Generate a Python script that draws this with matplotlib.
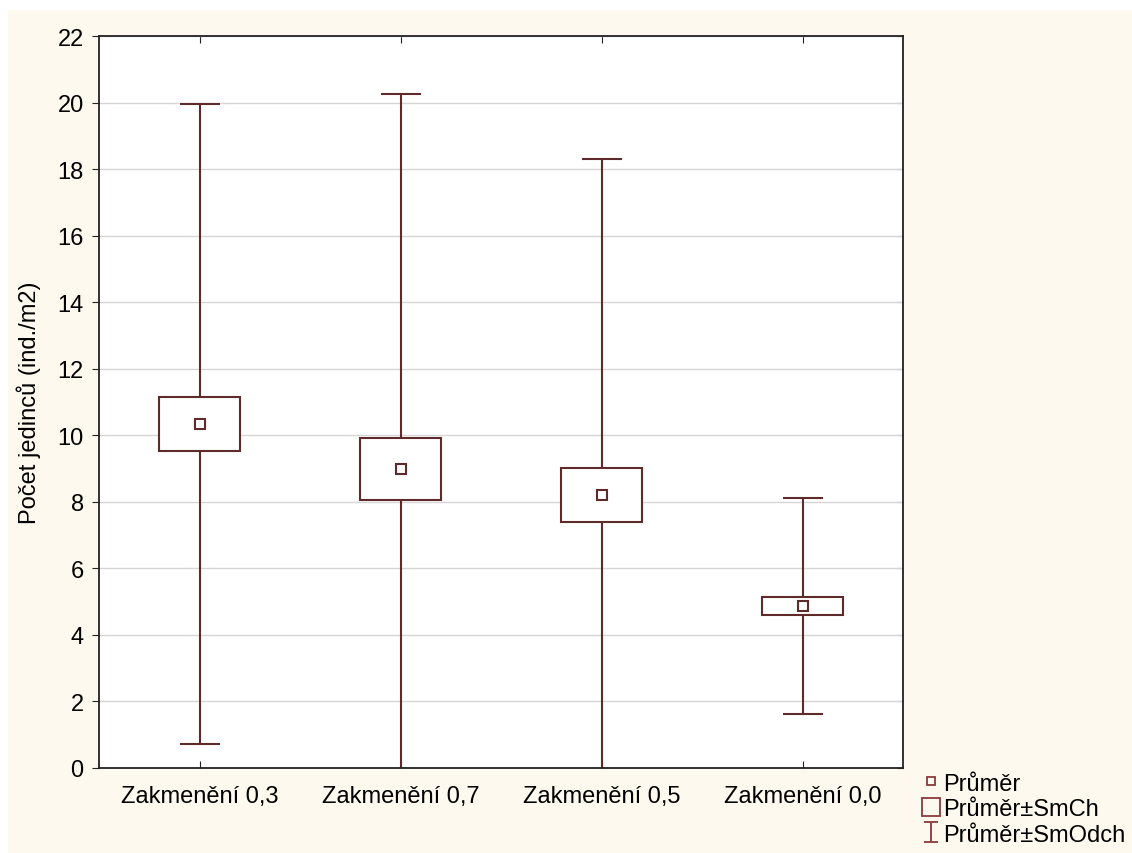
import matplotlib.pyplot as plt
from matplotlib.lines import Line2D
from matplotlib.patches import Rectangle
from matplotlib.path import Path

plt.rcParams["font.family"] = ["Liberation Sans", "DejaVu Sans"]
plt.rcParams["font.size"] = 17

# data
categories = ["Zakmenění 0,3", "Zakmenění 0,7", "Zakmenění 0,5", "Zakmenění 0,0"]
means = [10.34, 8.99, 8.21, 4.86]
se = [0.80, 0.93, 0.82, 0.27]          # SmCh
sd = [9.62, 11.26, 10.08, 3.25]        # SmOdch

col = "#5e2a2a"
cream = "#fdf9ee"

fig = plt.figure(figsize=(11.32, 8.54), dpi=100, facecolor="white")
fig.patches.append(Rectangle((8 / 1132, 0), 1, 1 - 11 / 854,
                             transform=fig.transFigure, facecolor=cream,
                             edgecolor="none", zorder=-10))
ax = fig.add_axes([99 / 1132, 85 / 854, (903 - 99) / 1132, (769 - 37) / 854])
ax.set_facecolor("white")

x = list(range(1, len(categories) + 1))

# whiskers (mean +- SD)
ax.errorbar(x, means, yerr=sd, fmt="none", ecolor=col, elinewidth=1.5,
            capsize=14.5, capthick=1.5, zorder=2, clip_on=True)
# boxes (mean +- SE)
ax.bar(x, [2 * s for s in se], bottom=[m - s for m, s in zip(means, se)],
       width=0.4, facecolor="white", edgecolor=col, linewidth=1.5, zorder=3)
# means
ax.plot(x, means, "s", ms=6.5, mfc="white", mec=col, mew=1.5, zorder=4)

ax.set_xlim(0.5, 4.5)
ax.set_ylim(0, 22)
ax.set_yticks(range(0, 23, 2))
ax.set_xticks(x)
ax.set_xticklabels(categories)
ax.set_ylabel("Počet jedinců (ind./m2)", labelpad=12)

ax.grid(axis="y", color="#d6d6d6", linewidth=1)
ax.set_axisbelow(True)
for s in ax.spines.values():
    s.set_color("#222222")
    s.set_linewidth(1.3)
ax.tick_params(axis="y", direction="out", length=5, left=True, right=False,
               color="#222222", pad=6)
ax.tick_params(axis="x", direction="in", length=5, top=True, bottom=True,
               color="#222222", pad=12)
sec = ax.secondary_yaxis("right")
sec.set_yticks(range(0, 23, 2))
sec.tick_params(direction="in", length=4, labelright=False, color="#222222")
sec.spines["right"].set_visible(False)

# legend
ibar = Path([(-0.65, -1), (0.65, -1), (0, -1), (0, 1), (-0.65, 1), (0.65, 1)],
            [Path.MOVETO, Path.LINETO, Path.MOVETO, Path.LINETO, Path.MOVETO, Path.LINETO])
handles = [
    Line2D([], [], ls="none", marker="s", ms=6, mfc="none", mec="#8a3a3a", mew=1.3),
    Line2D([], [], ls="none", marker="s", ms=12.5, mfc="none", mec="#8a3a3a", mew=1.3),
    Line2D([], [], ls="none", marker=ibar, ms=15, mec="#8a3a3a", mew=1.3),
]
labels = ["Průměr", "Průměr±SmCh", "Průměr±SmOdch"]
fig.legend(handles, labels, loc="lower left", bbox_to_anchor=(907 / 1132, -0.008),
           frameon=False, handlelength=0.8, handletextpad=0.15, labelspacing=0.15,
           borderpad=0.1, fontsize=17)

fig.savefig("out.png", dpi=100, facecolor=fig.get_facecolor())
